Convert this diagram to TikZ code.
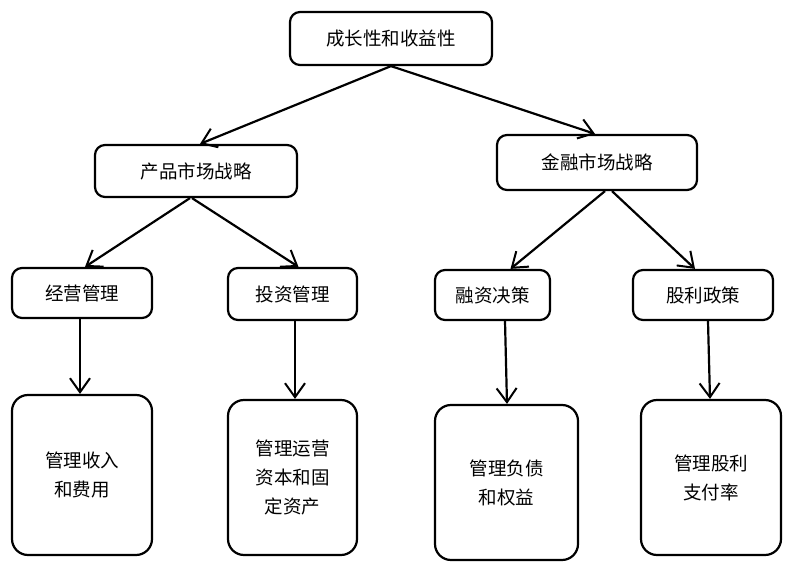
\documentclass[tikz,border=0pt]{standalone}
\usepackage{fontspec}
\newfontfamily\cjk{Noto Sans CJK SC}
\usetikzlibrary{arrows.meta}

\begin{document}
\begin{tikzpicture}[x=1pt,y=-1pt,
    box/.style={draw=black, line width=2.2pt, rounded corners=10pt, align=center, font=\cjk\fontsize{18.5}{29}\selectfont},
    leafbox/.style={box, rounded corners=16pt},
    link/.style={line width=2.2pt, -{Straight Barb[length=14pt,width=20pt,line width=2pt]}}]
    \def\picwidth{792}
    \def\picheight{569}

    % Draw the background
    \fill[white] (0,0) rectangle (\picwidth,\picheight);
    \useasboundingbox (0,0) rectangle (\picwidth,\picheight);

    % Top level
    \node[box, minimum width=202pt, minimum height=53pt] (goal) at (391,38.5) {成长性和收益性};

    % Second level
    \node[box, minimum width=202pt, minimum height=52pt] (product) at (196,171) {产品市场战略};
    \node[box, minimum width=200pt, minimum height=55pt] (finance) at (597,162.5) {金融市场战略};

    % Third level
    \node[box, minimum width=140pt, minimum height=50pt] (operate) at (82,293) {经营管理};
    \node[box, minimum width=129pt, minimum height=52pt] (invest) at (292.5,294) {投资管理};
    \node[box, minimum width=115pt, minimum height=50pt] (funding) at (492.5,295) {融资决策};
    \node[box, minimum width=140pt, minimum height=50pt] (dividend) at (703,295) {股利政策};

    % Bottom level
    \node[leafbox, minimum width=140pt, minimum height=160pt] (income) at (82,475) {管理收入\\和费用};
    \node[leafbox, minimum width=129pt, minimum height=155pt] (capital) at (292.5,477.5) {管理运营\\资本和固\\定资产};
    \node[leafbox, minimum width=143pt, minimum height=155pt] (debt) at (506.5,482.5) {管理负债\\和权益};
    \node[leafbox, minimum width=140pt, minimum height=155pt] (payout) at (711,477.5) {管理股利\\支付率};

    % Connectors
    \draw[link] (goal.south) -- ([xshift=4pt]product.north);
    \draw[link] (goal.south) -- ([xshift=-2pt]finance.north);
    \draw[link] ([xshift=-6pt]product.south) -- ([xshift=3pt]operate.north);
    \draw[link] ([xshift=-4pt]product.south) -- ([xshift=6pt]invest.north);
    \draw[link] ([xshift=8pt]finance.south) -- ([xshift=18pt]funding.north);
    \draw[link] ([xshift=15pt]finance.south) -- ([xshift=-8pt]dividend.north);
    \draw[link] ([xshift=-2pt]operate.south) -- ([xshift=-2pt]income.north);
    \draw[link] ([xshift=2.5pt]invest.south) -- ([xshift=2.5pt]capital.north);
    \draw[link] ([xshift=12.5pt]funding.south) -- ([xshift=0.5pt]debt.north);
    \draw[link] ([xshift=5pt]dividend.south) -- ([xshift=-1pt]payout.north);
\end{tikzpicture}
\end{document}
